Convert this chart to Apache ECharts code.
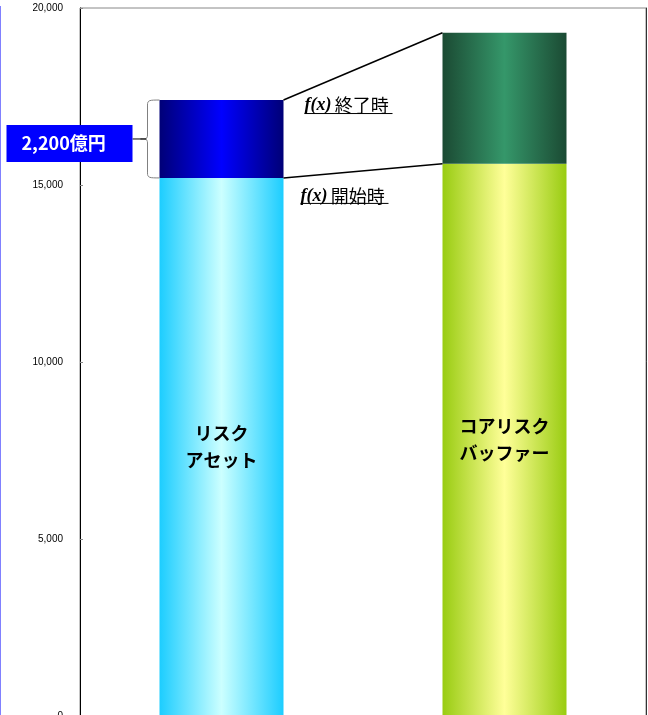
<!DOCTYPE html>
<html>
<head>
<meta charset="utf-8">
<style>
  html, body { margin: 0; padding: 0; background: #fff; }
  #chart { width: 648px; height: 715px; }
</style>
<script src="https://cdn.jsdelivr.net/npm/echarts@6/dist/echarts.min.js"></script>
</head>
<body>
<div id="chart"></div>
<script>
// data
const categories = ['リスクアセット', 'コアリスクバッファー'];
const barLabels = ['リスク\nアセット', 'コアリスク\nバッファー'];
const startValues = [15200, 15600];     // f(x) 開始時
const increaseValues = [2200, 3700];    // 開始時 -> 終了時
const endValues = startValues.map((v, i) => v + increaseValues[i]);
const axisMin = 0;
const axisMax = 20000;
const axisStep = 5000;
const noteEnd = '終了時';
const noteStart = '開始時';
const amountUnit = '億円';

const BAR_W = 124;
const JP = '"Noto Sans CJK JP", "Liberation Sans", sans-serif';

let chart = echarts.init(document.querySelector('#chart'));

function grad(edge, mid) {
    return new echarts.graphic.LinearGradient(0, 0, 1, 0, [
        { offset: 0, color: edge },
        { offset: 0.5, color: mid },
        { offset: 1, color: edge }
    ]);
}

const bottomColors = [grad('#1ccdff', '#ccffff'), grad('#99cc11', '#ffff99')];
const topColors = [grad('#000077', '#0000ff'), grad('#1b4a33', '#35976a')];

function fmt(v) {
    return v.toLocaleString('en-US');
}

function renderNotes(params, api) {
    const half = BAR_W / 2;
    const p1Top = api.coord([0, api.value(2)]);
    const p1Bot = api.coord([0, api.value(1)]);
    const p2Top = api.coord([1, api.value(4)]);
    const p2Bot = api.coord([1, api.value(3)]);

    const r1 = p1Top[0] + half;
    const l2 = p2Top[0] - half;
    const left = p1Top[0] - half;
    const yT = p1Top[1], yB = p1Bot[1];
    const ym = (yT + yB) / 2;
    const bx = left - 12, tip = left - 19;

    const brace = 'M' + left + ',' + yT +
        ' C' + (bx + 2) + ',' + yT + ' ' + bx + ',' + yT + ' ' + bx + ',' + (yT + 5) +
        ' L' + bx + ',' + (ym - 4) +
        ' C' + bx + ',' + ym + ' ' + (bx - 2) + ',' + ym + ' ' + tip + ',' + ym +
        ' C' + (bx - 2) + ',' + ym + ' ' + bx + ',' + ym + ' ' + bx + ',' + (ym + 4) +
        ' L' + bx + ',' + (yB - 5) +
        ' C' + bx + ',' + yB + ' ' + (bx + 2) + ',' + yB + ' ' + left + ',' + yB;

    const boxRight = left - 27, boxW = 126;
    const noteRich = {
        f: { fontFamily: '"Liberation Serif", serif', fontStyle: 'italic', fontWeight: 'bold', fontSize: 18, fill: '#000' },
        j: { fontFamily: JP, fontSize: 18, fill: '#000' }
    };

    return {
        type: 'group',
        children: [
            { type: 'line', shape: { x1: r1, y1: yT, x2: l2, y2: p2Top[1] }, style: { stroke: '#000', lineWidth: 1.5 } },
            { type: 'line', shape: { x1: r1, y1: yB, x2: l2, y2: p2Bot[1] }, style: { stroke: '#000', lineWidth: 1.5 } },
            { type: 'path', shape: { pathData: brace }, style: { stroke: '#808080', lineWidth: 1, fill: null } },
            { type: 'line', shape: { x1: boxRight, y1: ym, x2: tip + 6, y2: ym }, style: { stroke: '#000', lineWidth: 1 } },
            { type: 'rect', shape: { x: boxRight - boxW, y: ym - 14, width: boxW, height: 37 }, style: { fill: '#0000ff' } },
            {
                type: 'text', x: boxRight - boxW + 15, y: ym + 4.5,
                style: {
                    text: fmt(increaseValues[0]) + amountUnit, fill: '#fff', fontSize: 18, fontWeight: 'bold',
                    fontFamily: JP, verticalAlign: 'middle'
                }
            },
            {
                type: 'text', x: r1 + 21, y: yT + 5,
                style: { text: '{f|f(x)} {j|' + noteEnd + '}', rich: noteRich, verticalAlign: 'middle' }
            },
            { type: 'line', shape: { x1: r1 + 21, y1: yT + 13.5, x2: r1 + 109, y2: yT + 13.5 }, style: { stroke: '#000', lineWidth: 1 } },
            {
                type: 'text', x: r1 + 17, y: yB + 18,
                style: { text: '{f|f(x)} {j|' + noteStart + '}', rich: noteRich, verticalAlign: 'middle' }
            },
            { type: 'line', shape: { x1: r1 + 17, y1: yB + 25.5, x2: r1 + 105, y2: yB + 25.5 }, style: { stroke: '#000', lineWidth: 1 } }
        ]
    };
}

let option = {
    animation: false,
    grid: {
        left: 80, top: 8, width: 566, height: 708, show: true, borderColor: '#888', borderWidth: 1,
        outerBoundsMode: 'none', containLabel: false
    },
    graphic: [
        { type: 'rect', shape: { x: 0, y: 6, width: 1, height: 709 }, style: { fill: '#8080ff' } }
    ],
    xAxis: {
        type: 'category',
        data: categories,
        axisLine: { lineStyle: { color: '#000' } },
        axisLabel: { show: false },
        axisTick: { inside: true, length: 12, lineStyle: { color: '#ccc' } }
    },
    yAxis: [
        {
            type: 'value',
            min: axisMin, max: axisMax, interval: axisStep,
            axisLine: { show: true, lineStyle: { color: '#000', width: 1 } },
            axisTick: { show: true, inside: true, length: 3, lineStyle: { color: '#888' } },
            splitLine: { show: false },
            axisLabel: {
                formatter: (v) => fmt(v), fontSize: 10, color: '#000', margin: 17,
                fontFamily: '"Liberation Sans", Arial, sans-serif'
            }
        },
        {
            type: 'value', position: 'right',
            min: axisMin, max: axisMax, interval: axisStep,
            axisLine: { show: true, lineStyle: { color: '#333', width: 1 } },
            axisTick: { show: false },
            axisLabel: { show: false },
            splitLine: { show: false }
        }
    ],
    series: [
        {
            name: noteStart,
            type: 'bar',
            stack: 'total',
            barWidth: BAR_W,
            data: startValues.map((v, i) => ({
                value: v,
                itemStyle: { color: bottomColors[i] },
                label: { formatter: barLabels[i] }
            })),
            label: {
                show: true, position: 'inside', color: '#000', fontSize: 18, fontWeight: 'bold',
                lineHeight: 27, fontFamily: JP
            }
        },
        {
            name: noteEnd,
            type: 'bar',
            stack: 'total',
            barWidth: BAR_W,
            data: increaseValues.map((v, i) => ({ value: v, itemStyle: { color: topColors[i] } }))
        },
        {
            type: 'custom',
            renderItem: renderNotes,
            encode: { x: 0, y: [1, 2, 3, 4] },
            data: [[0, startValues[0], endValues[0], startValues[1], endValues[1]]],
            z: 5
        }
    ]
};
chart.setOption(option);

window.onresize = function () {
    chart.resize();
}
</script>
</body>
</html>
